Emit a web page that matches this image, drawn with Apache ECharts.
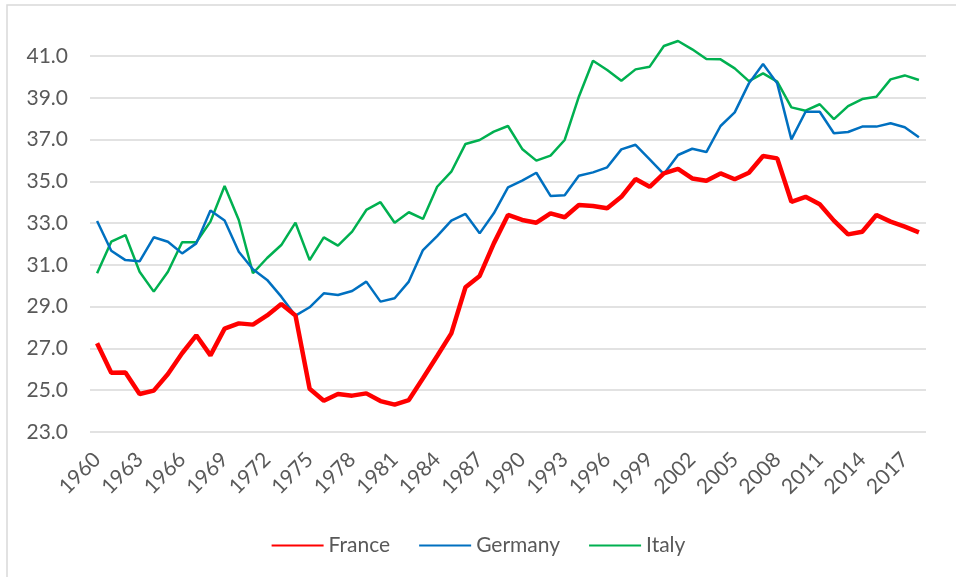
<!DOCTYPE html>
<html><head><meta charset="utf-8">
<script src="https://cdn.jsdelivr.net/npm/echarts@6/dist/echarts.min.js"></script>
<style>html,body{margin:0;padding:0;background:#fff}#c{width:956px;height:577px}</style>
</head><body><div id="c"></div>
<script>
const years = [];
for (let y = 1960; y <= 2018; y++) years.push(String(y));
const france = [27.25,25.84,25.85,24.82,24.98,25.78,26.77,27.63,26.67,27.95,28.2,28.14,28.58,29.13,28.58,25.07,24.5,24.82,24.74,24.85,24.48,24.31,24.53,25.57,26.64,27.72,29.93,30.47,32.03,33.39,33.15,33.02,33.47,33.28,33.87,33.82,33.71,34.26,35.11,34.74,35.38,35.6,35.14,35.03,35.38,35.1,35.41,36.21,36.1,34.02,34.26,33.9,33.12,32.46,32.59,33.39,33.07,32.83,32.56];
const germany = [33.1,31.68,31.23,31.17,32.32,32.11,31.55,32.03,33.6,33.12,31.63,30.79,30.28,29.48,28.57,28.97,29.64,29.56,29.75,30.2,29.24,29.4,30.2,31.71,32.38,33.12,33.44,32.51,33.47,34.71,35.03,35.41,34.3,34.33,35.27,35.43,35.67,36.53,36.75,36.05,35.35,36.26,36.56,36.4,37.65,38.3,39.69,40.62,39.69,37.01,38.33,38.33,37.3,37.36,37.62,37.62,37.78,37.59,37.11];
const italy = [30.6,32.11,32.43,30.67,29.72,30.67,32.08,32.08,33.07,34.78,33.15,30.6,31.33,31.95,33.02,31.23,32.32,31.92,32.59,33.63,34.0,33.02,33.52,33.2,34.74,35.46,36.79,36.98,37.38,37.65,36.55,35.99,36.23,36.98,39.05,40.77,40.33,39.82,40.36,40.49,41.48,41.72,41.32,40.86,40.84,40.41,39.8,40.17,39.77,38.54,38.38,38.69,37.98,38.6,38.94,39.05,39.88,40.07,39.85];
const seriesNames = ['France','Germany','Italy'];
const yMin = 23, yMax = 41, yStep = 2;

const chart = echarts.init(document.getElementById('c'), null, {renderer:'canvas'});
const font = 'Lato, "Open Sans", sans-serif';
chart.setOption({
  animation: false,
  backgroundColor: '#fff',
  graphic: [{type:'rect', shape:{x:7,y:5,width:1000,height:1000}, style:{fill:'none', stroke:'#D9D9D9', lineWidth:1.5}, silent:true}],
  grid: {left: 90, right: 30, top: 56, bottom: 145, containLabel: false},
  legend: {
    data: seriesNames, top: 530, left: 'center', itemGap: 28, itemWidth: 52, itemHeight: 14,
    itemStyle: {opacity: 0},
    textStyle: {fontFamily: font, fontSize: 21, color: '#595959'}
  },
  xAxis: {
    type: 'category', data: years, boundaryGap: true,
    axisLine: {show: false}, axisTick: {show: false},
    axisLabel: {interval: 2, rotate: 45, margin: 24, fontFamily: font, fontSize: 21, color: '#595959'}
  },
  yAxis: {
    type: 'value', min: yMin, max: yMax, interval: yStep,
    axisLine: {show: false}, axisTick: {show: false},
    splitLine: {lineStyle: {color: '#D9D9D9', width: 1.5}},
    axisLabel: {margin: 22, fontFamily: font, fontSize: 21, color: '#595959', formatter: v => v.toFixed(1)}
  },
  series: [
    {name: 'France', type: 'line', data: france, symbol: 'none', clip: false, lineStyle: {color: '#FF0000', width: 4.5}, itemStyle: {color: '#FF0000'}, z: 3},
    {name: 'Germany', type: 'line', data: germany, symbol: 'none', clip: false, lineStyle: {color: '#0070C0', width: 2.5}, itemStyle: {color: '#0070C0'}, z: 2},
    {name: 'Italy', type: 'line', data: italy, symbol: 'none', clip: false, lineStyle: {color: '#00B050', width: 2.5}, itemStyle: {color: '#00B050'}, z: 1}
  ]
});
</script></body></html>
